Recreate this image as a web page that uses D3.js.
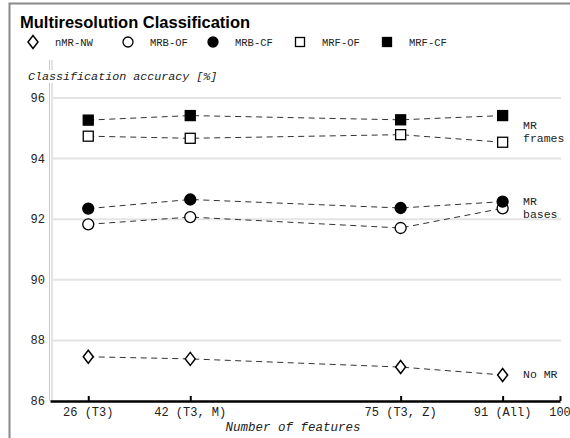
<!DOCTYPE html>
<html>
<head>
<meta charset="utf-8">
<script src="https://d3js.org/d3.v7.min.js"></script>
<style>
body { margin: 0; background: #fff; }
svg { display: block; }
.mono { font-family: "Courier New", "Liberation Mono", monospace; fill: #222; }
</style>
</head>
<body>
<svg width="570" height="438"></svg>
<script>
// x positions (number of features) and tick labels
var featCounts = [26, 42, 75, 91];
var xTickVals = [26, 42, 75, 91, 100];
var xTickLabels = ["26 (T3)", "42 (T3, M)", "75 (T3, Z)", "91 (All)", "100"];
var yTickVals = [86, 88, 90, 92, 94, 96];

// series: classification accuracy [%]
var nmrNW = [87.46, 87.39, 87.12, 86.86];
var mrbOF = [91.83, 92.07, 91.71, 92.36];
var mrbCF = [92.35, 92.65, 92.37, 92.58];
var mrfOF = [94.74, 94.67, 94.79, 94.54];
var mrfCF = [95.27, 95.42, 95.28, 95.42];

var seriesNames = ["nMR-NW", "MRB-OF", "MRB-CF", "MRF-OF", "MRF-CF"];
var seriesData = [nmrNW, mrbOF, mrbCF, mrfOF, mrfCF];
var seriesShape = ["diamond", "circle", "circle", "square", "square"];
var seriesFill = ["#fff", "#fff", "#000", "#fff", "#000"];

var groupLabels = [
  {lines: ["MR", "frames"], v: 94.9},
  {lines: ["MR", "bases"], v: 92.4},
  {lines: ["No MR"], v: 86.88}
];

var svg = d3.select("svg");
var x = d3.scaleLinear().domain([20, 100]).range([50, 560]);
var y = d3.scaleLinear().domain([86, 96]).range([401, 98]);

// frame
svg.append("path").attr("d", "M9.5,440 V3.5 H575")
  .attr("fill", "none").attr("stroke", "#8a8a8a").attr("stroke-width", 2);

// title
svg.append("text").attr("x", 20).attr("y", 28)
  .attr("font-family", "Arial, 'Liberation Sans', sans-serif")
  .attr("font-weight", "bold").attr("font-size", 16.5).attr("fill", "#000")
  .text("Multiresolution Classification");

function drawMarker(g, shape, fill, cx, cy, s) {
  if (shape == "circle") {
    g.append("circle").attr("cx", cx).attr("cy", cy).attr("r", s)
      .attr("fill", fill).attr("stroke", "#000").attr("stroke-width", 1.3);
  } else if (shape == "square") {
    g.append("rect").attr("x", cx - s).attr("y", cy - s).attr("width", 2 * s).attr("height", 2 * s)
      .attr("fill", fill).attr("stroke", "#000").attr("stroke-width", 1.3);
  } else {
    g.append("path").attr("d", "M" + cx + "," + (cy - 6.5) + "L" + (cx + 5) + "," + cy + "L" + cx + "," + (cy + 6.5) + "L" + (cx - 5) + "," + cy + "Z")
      .attr("fill", fill).attr("stroke", "#000").attr("stroke-width", 1.5);
  }
}

// legend
var legX = [33, 128, 213, 300, 387];
var legend = svg.append("g");
seriesNames.forEach(function(name, i) {
  var s = seriesShape[i] == "circle" ? 5 : 4.5;
  if (seriesShape[i] == "square" && seriesFill[i] == "#000") s = 4.5;
  drawMarker(legend, seriesShape[i], seriesFill[i], legX[i], 42, s);
  legend.append("text").attr("class", "mono").attr("x", legX[i] + 22).attr("y", 46)
    .attr("font-size", 10.5).text(name);
});

// gridlines
svg.append("g").selectAll("line").data(yTickVals.slice(1)).enter().append("line")
  .attr("x1", 53).attr("x2", 561)
  .attr("y1", function(d) { return y(d); }).attr("y2", function(d) { return y(d); })
  .attr("stroke", "#e4e4e4").attr("stroke-width", 2);

// y axis double line
[49.5, 52].forEach(function(px) {
  svg.append("line").attr("x1", px).attr("x2", px).attr("y1", 60).attr("y2", 401)
    .attr("stroke", "#bbb").attr("stroke-width", 0.8);
});

// y axis label with white background
svg.append("rect").attr("x", 26).attr("y", 70).attr("width", 196).attr("height", 13).attr("fill", "#fff");
svg.append("text").attr("class", "mono").attr("x", 28).attr("y", 80)
  .attr("font-size", 11.7).attr("font-style", "italic").text("Classification accuracy [%]");

// y tick labels
svg.append("g").selectAll("text").data(yTickVals).enter().append("text")
  .attr("class", "mono").attr("x", 45).attr("y", function(d) { return y(d) + 4; })
  .attr("text-anchor", "end").attr("font-size", 12).text(function(d) { return d; });

// x axis
var xAxis = svg.append("g").attr("transform", "translate(0,401)")
  .call(d3.axisTop(x).tickValues(xTickVals).tickSize(5).tickSizeOuter(0).tickFormat(""));
xAxis.select(".domain").attr("stroke", "#000").attr("stroke-width", 2.5);
xAxis.selectAll(".tick line").attr("stroke", "#000").attr("stroke-width", 2);

svg.append("g").selectAll("text").data(xTickVals).enter().append("text")
  .attr("class", "mono").attr("x", function(d) { return x(d); }).attr("y", 416)
  .attr("text-anchor", "middle").attr("font-size", 12)
  .text(function(d, i) { return xTickLabels[i]; });

svg.append("text").attr("class", "mono").attr("x", 293).attr("y", 431)
  .attr("text-anchor", "middle").attr("font-size", 12.5).attr("font-style", "italic")
  .text("Number of features");

// series lines
var line = d3.line().x(function(d, i) { return x(featCounts[i]); }).y(function(d) { return y(d); });
seriesData.forEach(function(vals) {
  svg.append("path").datum(vals).attr("d", line)
    .attr("fill", "none").attr("stroke", "#333").attr("stroke-width", 1)
    .attr("stroke-dasharray", "6,4.5");
});

// markers
var marks = svg.append("g");
seriesData.forEach(function(vals, i) {
  vals.forEach(function(v, j) {
    var s = seriesShape[i] == "circle" ? 5.5 : 5;
    drawMarker(marks, seriesShape[i], seriesFill[i], x(featCounts[j]), y(v), s);
  });
});

// group labels
groupLabels.forEach(function(gl) {
  var n = gl.lines.length;
  gl.lines.forEach(function(t, k) {
    svg.append("text").attr("class", "mono").attr("x", 523)
      .attr("y", y(gl.v) + 4 + (k - (n - 1) / 2) * 13)
      .attr("font-size", 11.5).text(t);
  });
});
</script>
</body>
</html>
